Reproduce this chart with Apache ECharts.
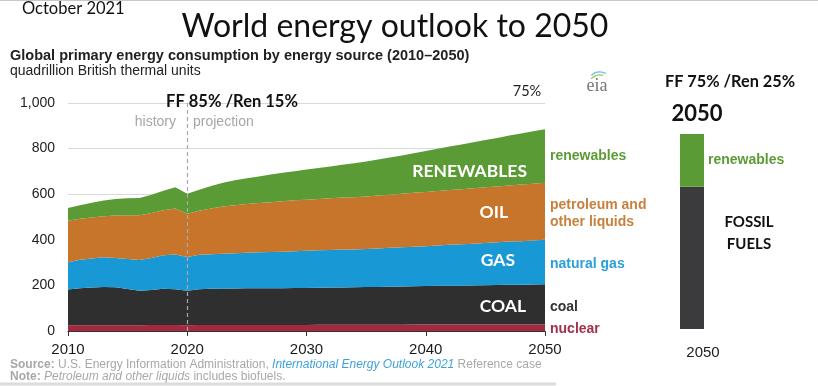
<!DOCTYPE html>
<html><head><meta charset="utf-8">
<script src="https://cdn.jsdelivr.net/npm/echarts@6/dist/echarts.min.js"></script>
<style>html,body{margin:0;padding:0;background:#fff}#c{width:818px;height:386px}</style>
</head><body><div id="c"></div>
<script>
var years = [];
for (var y = 2010; y <= 2050; y++) years.push(String(y));
var yTicks = [0, 200, 400, 600, 800, 1000];
var nuclear = [25,25,25,25,25,25,25,26,26,26,25,26,26,26,26,26,26,26,26,26,26,27,27,27,27,27,27,27,27,28,28,28,28,28,28,28,29,29,29,29,29];
var coal    = [157,162,166,168,167,159,152,154,159,157,151,157,159,160,160,161,161,162,162,163,163,163,164,164,165,166,166,167,168,168,169,170,171,171,172,173,173,174,174,175,176];
var gas     = [120,125,127,130,128,132,134,140,147,153,149,151,152,153,155,156,158,159,160,161,163,164,164,166,166,167,169,171,172,174,175,177,179,181,183,185,187,189,191,193,195];
var oil     = [182,180,180,180,187,192,197,198,198,201,189,193,200,207,211,214,216,218,221,223,224,225,227,228,229,230,232,233,235,236,238,239,240,242,243,244,245,246,248,249,250];
var renew   = [56,60,65,69,72,74,75,80,85,93,88,93,99,104,109,113,117,121,125,128,132,136,140,144,149,153,158,163,168,174,180,185,191,196,202,208,213,219,224,230,235];
var bar2050Cats = ['2050'];
var bar2050Fossil = [73];
var bar2050Renew = [27];

var C = {ren:'#5b9b35', oil:'#c8752c', gas:'#1899d6', coal:'#2f2f2f', nuc:'#a5283f'};
function area(name, data, color, extra) {
  var s = {name:name, type:'line', stack:'tot', data:data, symbol:'none', smooth:false,
    lineStyle:{width:0}, areaStyle:{color:color, opacity:1}, itemStyle:{color:color},
    xAxisIndex:0, yAxisIndex:0, silent:true, z:2};
  if (extra) for (var k in extra) s[k] = extra[k];
  return s;
}
var lab = 'Liberation Sans, Arial, sans-serif';
var cal = 'Lato, Open Sans, sans-serif';
function T(x, y, text, font, fill, align, extra) {
  var st = {text:text, x:x, y:y, font:font, fill:fill, textAlign:align||'left', align:align||'left', textVerticalAlign:'middle', verticalAlign:'middle'};
  if (extra) for (var k in extra) st[k] = extra[k];
  return {type:'text', z:100, style:st};
}
var chart = echarts.init(document.getElementById('c'));
chart.setOption({
  animation:false,
  backgroundColor:'#fff',
  grid:[{left:68, right:273, top:103, bottom:55}, {left:680, width:24, top:134, bottom:57}],
  xAxis:[
    {type:'category', data:years, boundaryGap:false, gridIndex:0,
     axisLine:{show:true, lineStyle:{color:'#333'}},
     axisTick:{show:true, interval:9, length:5, lineStyle:{color:'#333'}},
     axisLabel:{interval:9, color:'#1a1a1a', fontSize:15, fontFamily:lab, margin:11},
     splitLine:{show:false}},
    {type:'category', data:bar2050Cats, gridIndex:1, show:false}
  ],
  yAxis:[
    {type:'value', min:yTicks[0], max:yTicks[yTicks.length-1], interval:200, gridIndex:0,
     axisLine:{show:false}, axisTick:{show:false},
     axisLabel:{color:'#222', fontSize:14, fontFamily:lab, margin:13,
       formatter:function(v){return v>=1000 ? (Math.floor(v/1000)+','+String(v%1000).padStart(3,'0')) : String(v);}},
     splitLine:{show:true, lineStyle:{color:'#d9d9d9', width:1}}},
    {type:'value', min:0, max:100, gridIndex:1, show:false}
  ],
  series:[
    area('nuclear', nuclear, C.nuc),
    area('coal', coal, C.coal),
    area('natural gas', gas, C.gas),
    area('petroleum and other liquids', oil, C.oil),
    area('renewables', renew, C.ren, {markLine:{silent:true, symbol:'none', label:{show:false},
      lineStyle:{color:'#a8a8a8', type:[4,3], width:1.2}, data:[{xAxis:'2020'}]}}),
    {name:'fossil 2050', type:'bar', stack:'b', data:bar2050Fossil, xAxisIndex:1, yAxisIndex:1,
     barWidth:24, itemStyle:{color:'#3b3b3d'}, silent:true},
    {name:'renewables 2050', type:'bar', stack:'b', data:bar2050Renew, xAxisIndex:1, yAxisIndex:1,
     barWidth:24, itemStyle:{color:'#5b9b35'}, silent:true}
  ],
  graphic:[
    {type:'line', z:100, shape:{x1:0, y1:0.5, x2:818, y2:0.5}, style:{stroke:'#c8c8c8', lineWidth:1}},
    {type:'line', z:100, shape:{x1:0, y1:384, x2:556, y2:384}, style:{stroke:'#dcdcdc', lineWidth:3}},
    T(22, 9, 'October 2021', '16.5px ' + cal, '#111'),
    T(395, 27, 'World energy outlook to 2050', '32px ' + cal, '#111', 'center'),
    T(10, 56, 'Global primary energy consumption by energy source (2010\u20132050)', 'bold 14.5px ' + lab, '#222'),
    T(10, 71, 'quadrillion British thermal units', '14px ' + lab, '#222'),
    T(232, 102, 'FF 85% /Ren 15%', 'bold 16.5px ' + cal, '#111', 'center'),
    T(176, 122, 'history', '14px ' + lab, '#a6a6a6', 'right'),
    T(193, 122, 'projection', '14px ' + lab, '#a6a6a6', 'left'),
    T(527, 91, '75%', '14.5px ' + cal, '#222', 'center'),
    T(597, 86, 'eia', '18px Liberation Serif, DejaVu Serif, serif', '#777', 'center'),
    {type:'arc', z:100, shape:{cx:600, cy:85, r:13, startAngle:-2.3, endAngle:-1.1}, style:{stroke:'#7cc0e0', lineWidth:1.5, fill:null}},
    {type:'arc', z:100, shape:{cx:600, cy:87, r:12, startAngle:-2.4, endAngle:-1.3}, style:{stroke:'#9acb62', lineWidth:1.2, fill:null}},
    T(527, 171, 'RENEWABLES', 'bold 17.5px ' + cal, '#fff', 'right'),
    T(508, 212, 'OIL', 'bold 17.5px ' + cal, '#fff', 'right'),
    T(515, 260, 'GAS', 'bold 17.5px ' + cal, '#fff', 'right'),
    T(526, 306, 'COAL', 'bold 17.5px ' + cal, '#fff', 'right'),
    T(550, 156, 'renewables', 'bold 14px ' + lab, '#5b9b35'),
    T(550, 205, 'petroleum and', 'bold 14px ' + lab, '#c8803c'),
    T(550, 222, 'other liquids', 'bold 14px ' + lab, '#c8803c'),
    T(550, 264, 'natural gas', 'bold 14px ' + lab, '#2a9fd8'),
    T(550, 307, 'coal', 'bold 14px ' + lab, '#333'),
    T(550, 329, 'nuclear', 'bold 14px ' + lab, '#a5304a'),
    {type:'text', z:100, style:{x:10, y:365, textVerticalAlign:'middle', verticalAlign:'middle', font:'12px ' + lab, fill:'#a8a8a8',
      text:'{b|Source:} U.S. Energy Information Administration, {i|International Energy Outlook 2021} Reference case',
      rich:{b:{fontWeight:'bold', fontSize:12, fontFamily:lab, fill:'#a8a8a8', color:'#a8a8a8'}, i:{fontStyle:'italic', fontSize:12, fontFamily:lab, fill:'#3ea2d8', color:'#3ea2d8'}}}},
    {type:'text', z:100, style:{x:10, y:377, textVerticalAlign:'middle', verticalAlign:'middle', font:'12px ' + lab, fill:'#a8a8a8',
      text:'{b|Note:} {i|Petroleum and other liquids} includes biofuels.',
      rich:{b:{fontWeight:'bold', fontSize:12, fontFamily:lab, fill:'#a8a8a8', color:'#a8a8a8'}, i:{fontStyle:'italic', fontSize:12, fontFamily:lab, fill:'#a8a8a8', color:'#a8a8a8'}}}},
    T(730, 82, 'FF 75% /Ren 25%', 'bold 16.3px ' + cal, '#111', 'center'),
    T(697, 114, '2050', 'bold 22px ' + cal, '#111', 'center'),
    T(708, 160, 'renewables', 'bold 14px ' + lab, '#5b9b35'),
    T(749, 222, 'FOSSIL', 'bold 15px ' + cal, '#111', 'center'),
    T(749, 244, 'FUELS', 'bold 15px ' + cal, '#111', 'center'),
    T(703, 353, '2050', '15px ' + lab, '#222', 'center')
  ]
});
</script></body></html>
